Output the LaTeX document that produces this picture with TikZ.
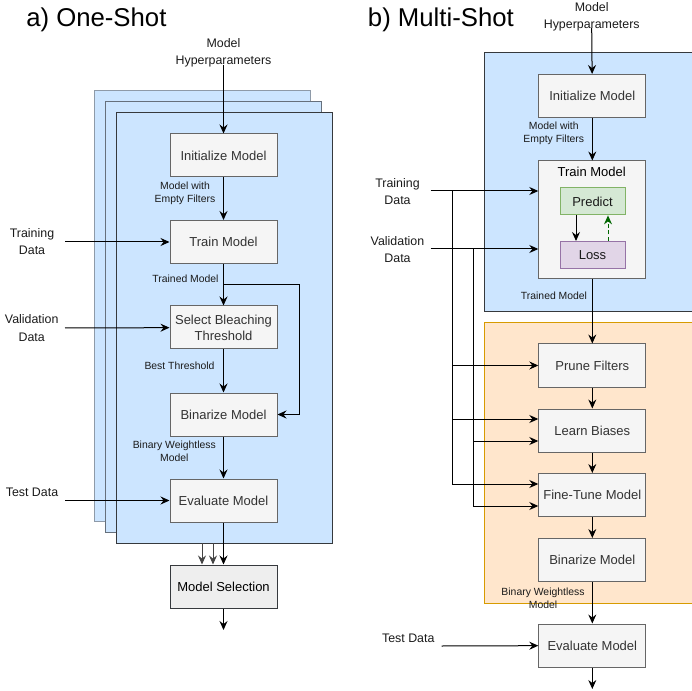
\documentclass[tikz,border=0pt]{standalone}
\usepackage{fontspec}
\setmainfont{Liberation Sans}
\usetikzlibrary{arrows.meta,calc}
\definecolor{panelblue}{HTML}{CCE5FF}
\definecolor{panelorange}{HTML}{FFE6CC}
\definecolor{orangeline}{HTML}{D79B00}
\definecolor{darkline}{HTML}{36393D}
\definecolor{backline}{HTML}{8E9AA8}
\definecolor{midline}{HTML}{66707C}
\definecolor{feedline}{HTML}{444444}
\definecolor{boxfill}{HTML}{F5F5F5}
\definecolor{selfill}{HTML}{EEEEEE}
\definecolor{boxline}{HTML}{666666}
\definecolor{boxtext}{HTML}{333333}
\definecolor{labeltext}{HTML}{1A1A1A}
\definecolor{greenfill}{HTML}{D5E8D4}
\definecolor{greenline}{HTML}{82B366}
\definecolor{purplefill}{HTML}{E1D5E7}
\definecolor{purpleline}{HTML}{9673A6}
\definecolor{loopgreen}{HTML}{006600}
\tikzset{
  stepbox/.style={draw=boxline, fill=boxfill, text=boxtext, line width=0.75pt,
    minimum width=80.25pt, minimum height=32.25pt, inner sep=0pt, align=center,
    font=\fontsize{9.75}{12}\selectfont},
  selbox/.style={stepbox, fill=selfill, draw=darkline, text=black},
  inlabel/.style={inner sep=0pt, align=center, text=labeltext,
    font=\fontsize{9.3}{13}\selectfont},
  edgelabel/.style={inner sep=0pt, align=center, text=labeltext,
    font=\fontsize{7.8}{9.75}\selectfont},
  title/.style={inner sep=0pt, anchor=base west, font=\fontsize{19.3}{22}\selectfont},
  arr/.style={line width=0.75pt, -{Stealth[length=6.75pt,width=6pt,inset=2.3pt]}},
  ln/.style={line width=0.75pt},
  stack/.style={fill=panelblue, line width=0.75pt, minimum width=162pt,
    minimum height=322.5pt, inner sep=0pt},
}
\begin{document}
\begin{tikzpicture}[x=0.75pt,y=-0.75pt]
\useasboundingbox (0,0) rectangle (692,691);

% ---------------- a) One-Shot ----------------
\node[title] (titleA) at (26,26.5) {a) One-Shot};

% stacked runs
\node[stack, draw=backline] (s1) at (202,306) {};
\node[stack, draw=midline] (s2) at (213,317) {};
\node[stack, draw=darkline] (s3) at (224,328) {};

\node[inlabel] (hpA) at (223.5,53) {Model\\Hyperparameters};
\node[stepbox] (initA) at (223.5,155.5) {Initialize Model};
\node[stepbox] (trainA) at (223.5,242) {Train Model};
\node[stepbox] (selectA) at (223.5,327.5) {Select Bleaching\\Threshold};
\node[stepbox] (binA) at (223.5,414.5) {Binarize Model};
\node[stepbox] (evalA) at (223.5,500.5) {Evaluate Model};
\node[selbox] (choose) at (223.5,586.5) {Model Selection};

\node[edgelabel] at (185,193.5) {Model with\\Empty Filters};
\node[edgelabel] at (185.5,278.5) {Trained Model};
\node[edgelabel] at (179.5,366) {Best Threshold};
\node[edgelabel] at (174.3,451.5) {Binary Weightless\\Model};

\node[inlabel] (trdA) at (32,241.5) {Training\\Data};
\node[inlabel] (vadA) at (31.7,328) {Validation\\Data};
\node[inlabel] (tedA) at (32,492.5) {Test Data};

\coordinate (trinA) at (65,242);
\coordinate (vainA) at (65,328);
\coordinate (teinA) at (65,500.5);
\coordinate (branchA) at (223.5,285);
\coordinate (m1) at (202,543);
\coordinate (m2) at (213,543);
\coordinate (outA) at (223.5,630);

\draw[arr] (hpA.south) ++(0,-3) -- (initA);
\draw[arr] (initA) -- (trainA);
\draw[arr] (trainA) -- (selectA);
\draw[arr] (selectA) -- (binA);
\draw[arr] (binA) -- (evalA);
\draw[arr] (evalA) -- (choose);
\draw[arr] (choose) -- (outA);
\draw[arr] (branchA) -- ++(75.5,0) |- (binA);
\draw[arr] (trinA) -- (trainA);
\draw[arr] (vainA) -- (selectA);
\draw[arr] (teinA) -- (evalA);
\draw[arr, draw=feedline] (m1) -- (m1 |- choose.north);
\draw[arr, draw=feedline] (m2) -- (m2 |- choose.north);

% ---------------- b) Multi-Shot ----------------
\node[title] (titleB) at (367.7,26.5) {b) Multi-Shot};

\draw[ln, draw=darkline, fill=panelblue] (484,53) rectangle (700,312);
\draw[ln, draw=orangeline, fill=panelorange] (484,322.7) rectangle (700,603);

\node[inlabel] (hpB) at (591.7,16.5) {Model\\Hyperparameters};
\node[stepbox] (initB) at (592.3,96) {Initialize Model};
\node[stepbox, minimum height=88.5pt] (trainB) at (592.3,220) {};
\node[inner sep=0pt, font=\fontsize{9.75}{12}\selectfont] at (591.7,172) {Train Model};
\node[stepbox, fill=greenfill, draw=greenline, text=labeltext,
  minimum width=48.75pt, minimum height=20.25pt] (predict) at (592.5,201.4) {Predict};
\node[stepbox, fill=purplefill, draw=purpleline, text=labeltext,
  minimum width=48.75pt, minimum height=20.25pt] (loss) at (592.5,255) {Loss};
\node[stepbox] (pruneB) at (592.3,365.5) {Prune Filters};
\node[stepbox] (learnB) at (592.3,430.5) {Learn Biases};
\node[stepbox] (tuneB) at (592.3,495) {Fine-Tune Model};
\node[stepbox] (binB) at (592.3,560) {Binarize Model};
\node[stepbox] (evalB) at (592.3,645.5) {Evaluate Model};

\node[edgelabel] at (553.8,133.5) {Model with\\Empty Filters};
\node[edgelabel] at (554,296) {Trained Model};
\node[edgelabel] at (543,598) {Binary Weightless\\Model};

\node[inlabel] (trdB) at (397.5,191.5) {Training\\Data};
\node[inlabel] (vadB) at (397.5,249.5) {Validation\\Data};
\node[inlabel] (tedB) at (408.3,638) {Test Data};

\coordinate (trinB) at (430.7,191);
\coordinate (vainB) at (430.7,249);
\coordinate (teinB) at (441.7,646);
\coordinate (tk1) at (452,191);
\coordinate (tk2) at (473.7,249);
\coordinate (outB) at (592.3,689);

\draw[arr] (hpB.south) ++(0,-3) -- (initB);
\draw[arr] (initB) -- (trainB);
\draw[arr] ($(predict.south)+(-16.5,0)$) -- ($(loss.north)+(-16.5,0)$);
\draw[arr, draw=loopgreen, dash pattern=on 3pt off 2pt]
  ($(loss.north)+(15.5,0)$) -- ($(predict.south)+(15.5,0)$);
\draw[arr] (trainB) -- (pruneB);
\draw[arr] (pruneB) -- (learnB);
\draw[arr] (learnB) -- (tuneB);
\draw[arr] (tuneB) -- (binB);
\draw[arr] (binB) -- (evalB);
\draw[arr] (evalB) -- (outB);

\draw[arr] (trinB) -- (trinB -| trainB.west);
\draw[arr] (vainB) -- (vainB -| trainB.west);
\draw[arr] (tk1) |- (pruneB);
\draw[arr] (tk1) |- ($(learnB.west)+(0,-11.5)$);
\draw[arr] (tk1) |- ($(tuneB.west)+(0,-11)$);
\draw[arr] (tk2) |- ($(learnB.west)+(0,10.5)$);
\draw[arr] (tk2) |- ($(tuneB.west)+(0,11)$);
\draw[arr] (teinB) -- (evalB);
\end{tikzpicture}
\end{document}
